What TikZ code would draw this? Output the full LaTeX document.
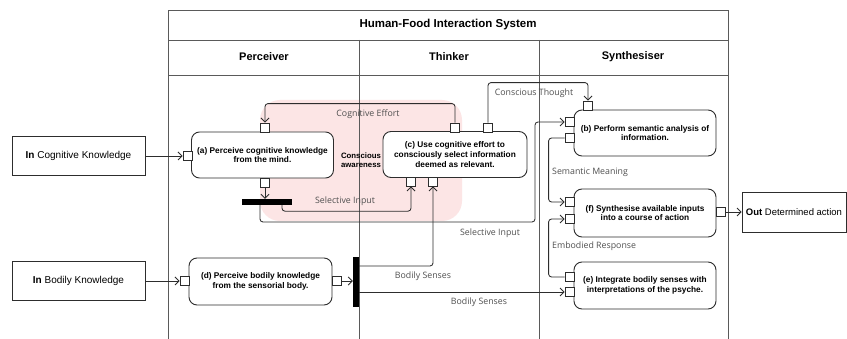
\documentclass[tikz,border=0pt]{standalone}
\usepackage{fontspec}
\setmainfont{Liberation Sans}
\newfontfamily\labelfont{Open Sans}
\usepackage{tikz}
\usetikzlibrary{arrows.meta}
\definecolor{LineGray}{RGB}{45,45,45}
\definecolor{FrameGray}{RGB}{90,90,90}
\definecolor{LabelGray}{RGB}{80,80,80}
\definecolor{AwareBg}{RGB}{252,229,229}
\tikzstyle{ActNode}=[rectangle, rounded corners=8pt, draw=LineGray, line width=0.9pt, fill=white, minimum width=142pt, minimum height=46pt, align=center, font=\fontsize{8.3}{9.8}\selectfont\bfseries]
\tikzstyle{IoNode}=[rectangle, draw=LineGray, line width=0.8pt, fill=white, minimum width=133pt, minimum height=39pt, font=\fontsize{10}{12}\selectfont]
\tikzstyle{PortNode}=[rectangle, draw=LineGray, line width=0.8pt, fill=white, minimum size=9pt, inner sep=0pt]
\tikzstyle{BarNode}=[rectangle, fill=black, inner sep=0pt]
\tikzstyle{HeadText}=[font=\fontsize{11}{13}\selectfont\bfseries]
\tikzstyle{EdgeLabel}=[text=LabelGray, font=\fontsize{8.8}{10}\selectfont\labelfont, inner sep=1pt]
\tikzstyle{FlowEdge}=[->, draw=LineGray, line width=0.85pt, rounded corners=3pt]
\tikzstyle{FrameLine}=[draw=FrameGray, line width=0.8pt]
\tikzset{>={Straight Barb[length=4pt,width=8pt]}}

\begin{document}
\begin{tikzpicture}[x=1pt, y=-1pt]
\useasboundingbox[fill=white] (0,0) rectangle (847,339);

\fill[AwareBg, rounded corners=20pt] (260,100) rectangle (462,221);

\draw[FrameLine] (168,339) -- (168,10) -- (728,10) -- (728,339);
\draw[FrameLine] (168,40) -- (728,40);
\draw[FrameLine] (168,75) -- (728,75);
\draw[FrameLine] (359,40) -- (359,339);
\draw[FrameLine] (539,40) -- (539,339);

\node[HeadText](SysTitle) at (448,25) {\fontsize{11.5}{13}\selectfont Human-Food Interaction System};
\node[HeadText](PercHead) at (264,57) {Perceiver};
\node[HeadText](ThinkHead) at (449,57) {Thinker};
\node[HeadText](SynthHead) at (633,57) {Synthesiser};

\node[IoNode](InCog) at (78.5,156) {\textbf{In} Cognitive Knowledge};
\node[IoNode](InBody) at (78.5,281) {\textbf{In} Bodily Knowledge};
\node[IoNode, minimum width=104pt, minimum height=40pt, font=\fontsize{9.5}{11}\selectfont](OutAct) at (794,212) {\textbf{Out} Determined action};

\node[ActNode](ActA) at (262.5,155) {(a) Perceive cognitive knowledge\\from the mind.};
\node[ActNode, minimum width=144pt](ActC) at (455,154.5) {(c) Use cognitive effort to\\consciously select information\\deemed as relevant.};
\node[ActNode](ActB) at (645,133) {(b) Perform semantic analysis of\\information.};
\node[ActNode, minimum height=48pt](ActF) at (645,213) {(f) Synthesise available inputs\\into a course of action};
\node[ActNode, minimum height=47pt](ActE) at (645,285.5) {(e) Integrate bodily senses with\\interpretations of the psyche.};
\node[ActNode, minimum width=143pt, minimum height=47pt](ActD) at (260.5,281.5) {(d) Perceive bodily knowledge\\from the sensorial body.};

\node[font=\fontsize{7.8}{8.8}\selectfont\bfseries, align=center](Aware) at (361,160) {Conscious\\awareness};

\node[PortNode](aL) at (187.5,156) {};
\node[PortNode](aT) at (265,127.5) {};
\node[PortNode](aB) at (265,182.5) {};
\node[PortNode](cT1) at (455,127.5) {};
\node[PortNode](cT2) at (488,127.5) {};
\node[PortNode](cB1) at (411,181.5) {};
\node[PortNode](cB2) at (433,181.5) {};
\node[PortNode](bT) at (588,105.5) {};
\node[PortNode](bL1) at (569.5,122) {};
\node[PortNode](bL2) at (569.5,138) {};
\node[PortNode](fL1) at (569.5,202) {};
\node[PortNode](fL2) at (569.5,219) {};
\node[PortNode](fR) at (720.5,212) {};
\node[PortNode](eL1) at (569.5,277) {};
\node[PortNode](eL2) at (569.5,292) {};
\node[PortNode](dL) at (184.5,281) {};
\node[PortNode](dR) at (336.5,281) {};

\node[BarNode, minimum width=50pt, minimum height=6pt](BarH) at (267,202) {};
\node[BarNode, minimum width=6pt, minimum height=50pt](BarV) at (356,282) {};
\coordinate (SelTurn) at (535,222);

\draw[FlowEdge] (InCog) -- (aL);
\draw[FlowEdge] (InBody) -- (dL);
\draw[FlowEdge] (cT1.north) -- ++(0,-19) -| (aT.north);
\draw[FlowEdge] (cT2.north) -- ++(0,-40) -| (bT.north);
\draw[FlowEdge] (aB.south) -- (aB.south |- BarH.north);
\draw[FlowEdge] ([xshift=15pt]BarH.south) -- ++(0,6) -| (cB1.south);
\draw[FlowEdge] ([xshift=-7pt]BarH.south) |- (SelTurn) |- (bL1.west);
\draw[FlowEdge] (dR) -- (BarV.west |- dR);
\draw[FlowEdge] ([yshift=16pt]BarV.east) -| (cB2.south);
\draw[FlowEdge] (BarV.east |- eL2) -- (eL2);
\draw[FlowEdge] (bL2.west) -- ++(-16,0) |- (fL1.west);
\draw[FlowEdge] (eL1.west) -- ++(-16,0) |- (fL2.west);
\draw[FlowEdge] (fR) -- (OutAct);

\node[EdgeLabel](LblEffort) at (368,114) {Cognitive Effort};
\node[EdgeLabel](LblThought) at (534,93) {Conscious Thought};
\node[EdgeLabel](LblSel1) at (345,201) {Selective Input};
\node[EdgeLabel](LblSel2) at (490,233) {Selective Input};
\node[EdgeLabel](LblBody1) at (423,276) {Bodily Senses};
\node[EdgeLabel](LblBody2) at (479,302) {Bodily Senses};
\node[EdgeLabel, anchor=west](LblSem) at (551,172) {Semantic Meaning};
\node[EdgeLabel, anchor=west](LblEmb) at (551,246) {Embodied Response};
\end{tikzpicture}
\end{document}
